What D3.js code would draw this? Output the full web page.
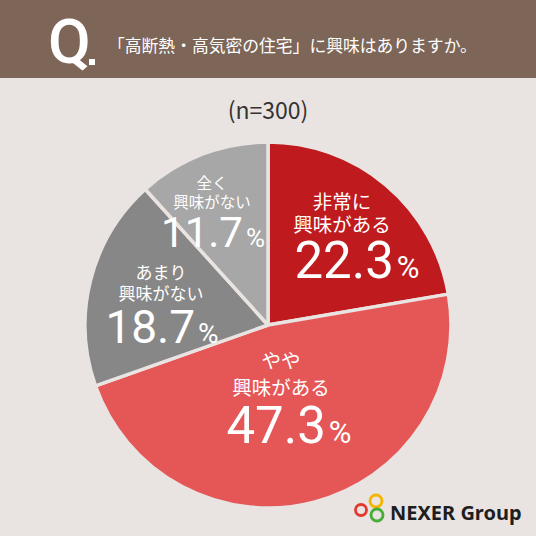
<!DOCTYPE html>
<html>
<head>
<meta charset="utf-8">
<script src="https://cdn.jsdelivr.net/npm/d3@7"></script>
<style>
  html, body { margin: 0; padding: 0; background: #e9e4e1; }
  svg { display: block; }
</style>
</head>
<body>
<div id="chart"></div>
<script>
// values
var categories = ["非常に\n興味がある", "やや\n興味がある", "あまり\n興味がない", "全く\n興味がない"];
var values = [22.3, 47.3, 18.7, 11.7];
var colors = ["#bf1a1d", "#e55657", "#878787", "#a7a7a7"];
var title = "「高断熱・高気密の住宅」に興味はありますか。";
var sampleNote = "(n=300)";

var W = 536, H = 536;
var cx = 268, cy = 325, radius = 183;
var bg = "#e9e4e1";
var jp = "'Noto Sans CJK JP', 'Noto Sans', sans-serif";
var num = "Roboto, 'Noto Sans', sans-serif";

// where each label block sits, and how big
var labelLayout = [
    {x: 342, y: 202, lh: 23, fs: 19.5, nx: 357, ns: 51, ps: 31, nb: 278},
    {x: 281, y: 361, lh: 27, fs: 19.5, nx: 289, ns: 51, ps: 31, nb: 443},
    {x: 161, y: 273, lh: 21, fs: 17, nx: 162, ns: 46, ps: 28, nb: 343},
    {x: 212, y: 184, lh: 19, fs: 15.5, nx: 213, ns: 42, ps: 26, nb: 247}
];

var svg = d3.select("#chart")
    .append("svg")
    .attr("width", W)
    .attr("height", H);

svg.append("rect")
    .attr("width", W).attr("height", H)
    .attr("fill", bg);

// header band
svg.append("rect")
    .attr("width", W).attr("height", 78)
    .attr("fill", "#7d6657");

svg.append("text")
    .attr("x", 48).attr("y", 63)
    .attr("font-family", num)
    .attr("font-weight", 500)
    .attr("font-size", 62)
    .attr("fill", "#fff")
    .text("Q");
svg.append("rect")
    .attr("x", 89).attr("y", 59)
    .attr("width", 6).attr("height", 6)
    .attr("fill", "#fff");

svg.append("text")
    .attr("x", 108).attr("y", 52)
    .attr("font-family", jp)
    .attr("font-size", 16.8)
    .attr("fill", "#fff")
    .text(title);

svg.append("text")
    .attr("x", cx).attr("y", 119)
    .attr("text-anchor", "middle")
    .attr("font-family", jp)
    .attr("font-size", 23)
    .attr("fill", "#333")
    .text(sampleNote);

// pie
var pie = d3.pie().sort(null).value(function(d) { return d; });
var arc = d3.arc().innerRadius(0).outerRadius(radius);
var arcs = pie(values);

var g = svg.append("g")
    .attr("transform", "translate(" + cx + "," + cy + ")");

g.selectAll("path")
    .data(arcs)
    .enter()
    .append("path")
    .attr("d", arc)
    .attr("fill", function(d, i) { return colors[i]; })
    .attr("stroke", bg)
    .attr("stroke-width", 3.5)
    .attr("stroke-linejoin", "round");

// labels: category (two lines in one text) + percentage
arcs.forEach(function(d, i) {
    var L = labelLayout[i];
    var lines = categories[i].split("\n");
    var cat = svg.append("text")
        .attr("text-anchor", "middle")
        .attr("font-family", jp)
        .attr("font-size", L.fs)
        .attr("fill", "#fff");
    lines.forEach(function(line, j) {
        cat.append("tspan")
            .attr("x", L.x)
            .attr("y", L.y + j * L.lh)
            .attr("dy", "0.35em")
            .text(line);
    });
    var t = svg.append("text")
        .attr("x", L.nx).attr("y", L.nb)
        .attr("text-anchor", "middle")
        .attr("font-family", num)
        .attr("font-weight", 400)
        .attr("fill", "#fff");
    t.append("tspan")
        .attr("font-size", L.ns)
        .text(d3.format(".1f")(d.data));
    t.append("tspan")
        .attr("dx", 3)
        .attr("font-size", L.ps)
        .text("%");
});

// logo
var rings = [
    {x: 361, y: 510, r: 5.5, c: "#e2392d"},
    {x: 376, y: 501, r: 6, c: "#f4b400"},
    {x: 377, y: 515, r: 6, c: "#47ad3a"}
];
svg.selectAll("circle.ring")
    .data(rings)
    .enter()
    .append("circle")
    .attr("class", "ring")
    .attr("cx", function(d) { return d.x; })
    .attr("cy", function(d) { return d.y; })
    .attr("r", function(d) { return d.r; })
    .attr("fill", "none")
    .attr("stroke", function(d) { return d.c; })
    .attr("stroke-width", 2.8);

svg.append("text")
    .attr("x", 390).attr("y", 520)
    .attr("font-family", "'Noto Sans', sans-serif")
    .attr("font-weight", 700)
    .attr("font-size", 20)
    .attr("fill", "#1e1e1e")
    .text("NEXER Group");
</script>
</body>
</html>
